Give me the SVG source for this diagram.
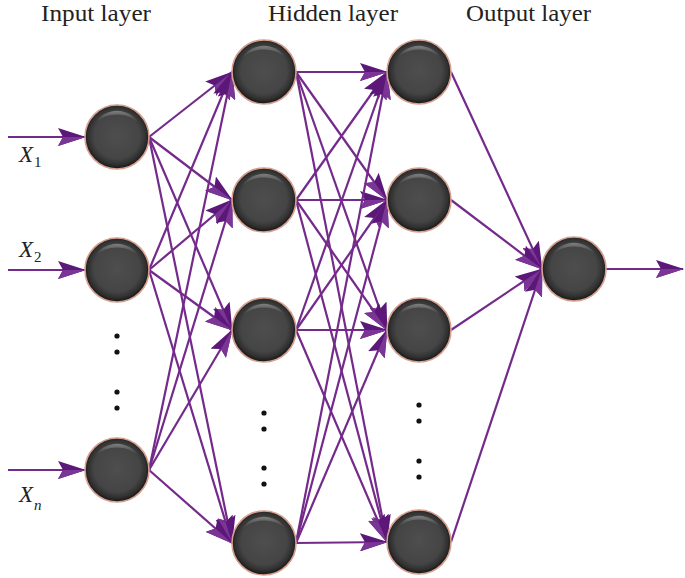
<svg xmlns="http://www.w3.org/2000/svg" width="685" height="578" viewBox="0 0 685 578">
<defs>
<radialGradient id="ball" cx="50%" cy="48%" r="50%">
<stop offset="0%" stop-color="#4e4e4e"/>
<stop offset="72%" stop-color="#454545"/>
<stop offset="90%" stop-color="#303030"/>
<stop offset="100%" stop-color="#1c1c1c"/>
</radialGradient>
<linearGradient id="hl" x1="0" y1="0" x2="0" y2="1">
<stop offset="0%" stop-color="#8e8e8e" stop-opacity="0.8"/>
<stop offset="100%" stop-color="#6a6a6a" stop-opacity="0"/>
</linearGradient>
<marker id="ah" viewBox="0 0 28 18" markerWidth="28" markerHeight="18" refX="27" refY="9" orient="auto" markerUnits="userSpaceOnUse">
<path d="M0,0 L28,9 L0,18 L5,9 Z" fill="#5c1878"/>
<path d="M5,9 L28,9 L0,18 Z" fill="#7a3596"/>
</marker>
<g id="nodeShape">
<circle r="32" fill="url(#ball)" stroke="#d6a090" stroke-width="1.6"/>
<path d="M-22,-14 A26,26 0 0 1 22,-14 A28,22 0 0 0 -22,-14 Z" fill="url(#hl)"/>
</g>
</defs>
<style>
.lbl{font-family:"Liberation Serif","Times New Roman",serif;font-size:23px;fill:#222}
.x{font-family:"Liberation Serif","Times New Roman",serif;font-style:italic;font-size:23px;fill:#222}
.sub{font-family:"Liberation Serif","Times New Roman",serif;font-size:15px;fill:#222}
.c line{stroke:#742a8a;stroke-width:2.2;marker-end:url(#ah)}
.dot{fill:#111}
</style>
<text class="lbl" x="41" y="21" textLength="110" lengthAdjust="spacingAndGlyphs">Input layer</text>
<text class="lbl" x="268" y="21" textLength="130" lengthAdjust="spacingAndGlyphs">Hidden layer</text>
<text class="lbl" x="466" y="21" textLength="125" lengthAdjust="spacingAndGlyphs">Output layer</text>
<g id="connectors" class="c">
<line x1="8" y1="137" x2="85" y2="137"/>
<line x1="8" y1="270" x2="85" y2="270"/>
<line x1="8" y1="470" x2="85" y2="470"/>
<line x1="149" y1="137" x2="232" y2="72"/>
<line x1="149" y1="137" x2="232" y2="200"/>
<line x1="149" y1="137" x2="232" y2="330"/>
<line x1="149" y1="137" x2="232" y2="543"/>
<line x1="149" y1="270" x2="232" y2="72"/>
<line x1="149" y1="270" x2="232" y2="200"/>
<line x1="149" y1="270" x2="232" y2="330"/>
<line x1="149" y1="270" x2="232" y2="543"/>
<line x1="149" y1="470" x2="232" y2="72"/>
<line x1="149" y1="470" x2="232" y2="200"/>
<line x1="149" y1="470" x2="232" y2="330"/>
<line x1="149" y1="470" x2="232" y2="543"/>
<line x1="296" y1="72" x2="387" y2="72"/>
<line x1="296" y1="72" x2="387" y2="200"/>
<line x1="296" y1="72" x2="387" y2="330"/>
<line x1="296" y1="72" x2="387" y2="542"/>
<line x1="296" y1="200" x2="387" y2="72"/>
<line x1="296" y1="200" x2="387" y2="200"/>
<line x1="296" y1="200" x2="387" y2="330"/>
<line x1="296" y1="200" x2="387" y2="542"/>
<line x1="296" y1="330" x2="387" y2="72"/>
<line x1="296" y1="330" x2="387" y2="200"/>
<line x1="296" y1="330" x2="387" y2="330"/>
<line x1="296" y1="330" x2="387" y2="542"/>
<line x1="296" y1="543" x2="387" y2="72"/>
<line x1="296" y1="543" x2="387" y2="200"/>
<line x1="296" y1="543" x2="387" y2="330"/>
<line x1="296" y1="543" x2="387" y2="542"/>
<line x1="451" y1="72" x2="542" y2="269"/>
<line x1="451" y1="200" x2="542" y2="269"/>
<line x1="451" y1="330" x2="542" y2="269"/>
<line x1="451" y1="542" x2="542" y2="269"/>
<line x1="606" y1="269" x2="683" y2="269"/>
</g>
<g id="in1"><use href="#nodeShape" x="117" y="137"/></g>
<g id="in2"><use href="#nodeShape" x="117" y="270"/></g>
<g id="inN"><use href="#nodeShape" x="117" y="470"/></g>
<g id="h1a"><use href="#nodeShape" x="264" y="72"/></g>
<g id="h1b"><use href="#nodeShape" x="264" y="200"/></g>
<g id="h1c"><use href="#nodeShape" x="264" y="330"/></g>
<g id="h1d"><use href="#nodeShape" x="264" y="543"/></g>
<g id="h2a"><use href="#nodeShape" x="419" y="72"/></g>
<g id="h2b"><use href="#nodeShape" x="419" y="200"/></g>
<g id="h2c"><use href="#nodeShape" x="419" y="330"/></g>
<g id="h2d"><use href="#nodeShape" x="419" y="542"/></g>
<g id="out"><use href="#nodeShape" x="574" y="269"/></g>
<g id="dots">
<circle class="dot" cx="117" cy="336" r="2.6"/>
<circle class="dot" cx="117" cy="352" r="2.6"/>
<circle class="dot" cx="117" cy="392" r="2.6"/>
<circle class="dot" cx="117" cy="408" r="2.6"/>
<circle class="dot" cx="264" cy="413" r="2.6"/>
<circle class="dot" cx="264" cy="429" r="2.6"/>
<circle class="dot" cx="264" cy="468" r="2.6"/>
<circle class="dot" cx="264" cy="484" r="2.6"/>
<circle class="dot" cx="419" cy="405" r="2.6"/>
<circle class="dot" cx="419" cy="421" r="2.6"/>
<circle class="dot" cx="419" cy="461" r="2.6"/>
<circle class="dot" cx="419" cy="477" r="2.6"/>
</g>
<text class="x" x="19" y="162">X<tspan class="sub" font-style="normal" dx="1" dy="5">1</tspan></text>
<text class="x" x="19" y="257">X<tspan class="sub" font-style="normal" dx="1" dy="5">2</tspan></text>
<text class="x" x="19" y="502">X<tspan class="sub" dx="1" dy="8">n</tspan></text>
</svg>
